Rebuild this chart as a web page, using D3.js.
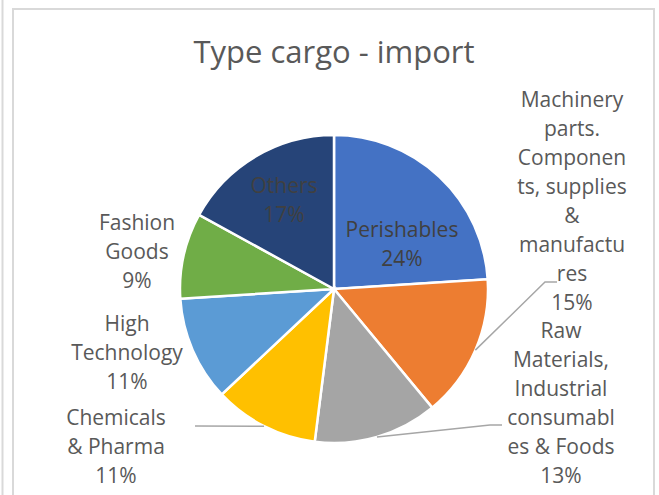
<!DOCTYPE html>
<html>
<head>
<meta charset="utf-8">
<script src="https://cdn.jsdelivr.net/npm/d3@7"></script>
<style>
  html, body { margin: 0; padding: 0; background: #fff; }
  svg { display: block; }
</style>
</head>
<body>
<div id="chart"></div>
<script>
// chart data
var title = "Type cargo - import";
var categories = ["Perishables", "Machinery", "Raw Materials", "Chemicals", "High Technology", "Fashion Goods", "Others"];
var values = [24, 15, 13, 11, 11, 9, 17];
var labelLines = [
       ["Perishables"],
       ["Machinery", "parts.", "Componen", "ts, supplies", "&", "manufactu", "res"],
       ["Raw", "Materials,", "Industrial", "consumabl", "es & Foods"],
       ["Chemicals", "& Pharma"],
       ["High", "Technology"],
       ["Fashion", "Goods"],
       ["Others"]
];
var colors = ["#4472C4", "#ED7D31", "#A5A5A5", "#FFC000", "#5B9BD5", "#70AD47", "#264478"];

// where excel put the labels (relative to pie centre, first baseline)
var labelLayout = {
       "Perishables": { dx: 68, dy: -52, inside: true },
       "Machinery": { dx: 238, dy: -182, elbow: [211, -7], end: [223, -7] },
       "Raw Materials": { dx: 227, dy: 49, elbow: [156, 136], end: [168, 136] },
       "Chemicals": { dx: -218, dy: 136, elbow: [-139, 137], end: [-139, 137] },
       "High Technology": { dx: -207, dy: 42 },
       "Fashion Goods": { dx: -197, dy: -59 },
       "Others": { dx: -50, dy: -96, inside: true }
};

var W = 659, H = 495;
var cx = 334, cy = 289, radius = 154;
var lineH = 29;

var svg = d3.select("#chart").append("svg")
       .attr("width", W)
       .attr("height", H);

// frame bits from the screenshot
svg.append("line")
       .attr("x1", 2.5).attr("x2", 2.5)
       .attr("y1", 0).attr("y2", H)
       .style("stroke", "#d9d9d9").style("stroke-width", 2);
svg.append("rect")
       .attr("x", 13).attr("y", 9)
       .attr("width", 641).attr("height", H + 20)
       .style("fill", "none")
       .style("stroke", "#d9d9d9").style("stroke-width", 2);

svg.append("text")
       .attr("x", cx)
       .attr("y", 63)
       .attr("text-anchor", "middle")
       .style("font-family", "'Open Sans', sans-serif")
       .style("font-size", "31px")
       .style("fill", "#595959")
       .text(title);

var data = categories.map(function (c, i) {
       return { name: c, value: values[i], color: colors[i], lines: labelLines[i] };
});

var pie = d3.pie()
       .value(function (d) { return d.value; })
       .sort(null);

var arc = d3.arc()
       .innerRadius(0)
       .outerRadius(radius);

var g = svg.append("g")
       .attr("transform", "translate(" + cx + "," + cy + ")");

var arcs = pie(data);

g.selectAll("path.slice")
       .data(arcs)
       .enter().append("path")
       .attr("class", "slice")
       .attr("d", arc)
       .style("fill", function (d) { return d.data.color; })
       .style("stroke", "#fff")
       .style("stroke-width", 2.5);

// leader lines
arcs.forEach(function (d) {
       var lay = labelLayout[d.data.name];
       if (!lay.elbow) return;
       var mid = (d.startAngle + d.endAngle) / 2;
       var p0 = [radius * Math.sin(mid), -radius * Math.cos(mid)];
       g.append("polyline")
              .attr("points", [p0, lay.elbow, lay.end].map(function (p) { return p.join(","); }).join(" "))
              .style("fill", "none")
              .style("stroke", "#a6a6a6")
              .style("stroke-width", 1.5);
});

// labels
arcs.forEach(function (d) {
       var lay = labelLayout[d.data.name];
       var lines = d.data.lines.concat([d3.format(".0%")(d.data.value / 100)]);
       var t = g.append("text")
              .attr("text-anchor", "middle")
              .style("font-family", "'Open Sans', sans-serif")
              .style("font-size", "21px")
              .style("fill", lay.inside ? "#404040" : "#595959");
       lines.forEach(function (s, i) {
              t.append("tspan")
                     .attr("x", lay.dx)
                     .attr("y", lay.dy + i * lineH)
                     .text(s);
       });
});
</script>
</body>
</html>
